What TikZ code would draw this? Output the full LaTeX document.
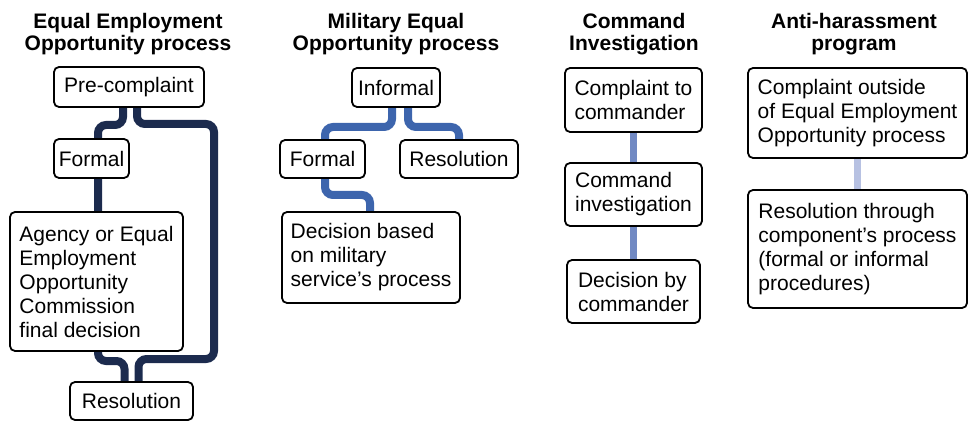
\documentclass[tikz,border=0pt]{standalone}
\usepackage{fontspec}
\setmainfont{Liberation Sans}
\usetikzlibrary{calc,backgrounds}
\definecolor{eeoc}{HTML}{1C2B4E}
\definecolor{meoc}{HTML}{3D65AD}
\definecolor{cmdc}{HTML}{7189C3}
\definecolor{antic}{HTML}{B7C1E2}
\tikzset{
  box/.style={draw=black, fill=white, line width=1.8pt, rounded corners=5pt,
    align=left, inner sep=0pt, font=\fontsize{21}{24}\selectfont},
  title/.style={align=center, inner sep=0pt, anchor=north,
    font=\bfseries\fontsize{21}{22}\selectfont},
  flow/.style={line width=#1, rounded corners=8pt},
}
\begin{document}
\begin{tikzpicture}[x=1pt,y=-1pt]
\useasboundingbox (0,0) rectangle (975,422);
% titles
\node[title] (t1) at (128,13) {Equal Employment\\Opportunity process};
\node[title] (t2) at (396,13) {Military Equal\\Opportunity process};
\node[title] (t3) at (634,13) {Command\\Investigation};
\node[title] (t4) at (854,13) {Anti-harassment\\program};
% EEO
\node[box, minimum width=150pt, minimum height=40pt] (pre) at (129,87) {Pre-complaint};
\node[box, minimum width=75pt, minimum height=39pt] (fm1) at (91.5,158.5) {Formal};
\node[box, minimum width=173pt, minimum height=139pt] (ag) at (96.5,281.5) {Agency or Equal\\Employment\\Opportunity\\Commission\\final decision};
\node[box, minimum width=123pt, minimum height=38pt] (res1) at (131.5,401) {Resolution};
% MEO
\node[box, minimum width=88pt, minimum height=39pt] (inf) at (396,87.5) {Informal};
\node[box, minimum width=85pt, minimum height=38pt] (fm2) at (322.5,159) {Formal};
\node[box, minimum width=118pt, minimum height=38pt] (res2) at (459,159) {Resolution};
\node[box, minimum width=178pt, minimum height=91pt] (dec) at (371,257.5) {Decision based\\on military\\service’s process};
% Command
\node[box, minimum width=137pt, minimum height=64pt] (c1) at (633.5,100) {Complaint to\\commander};
\node[box, minimum width=137pt, minimum height=63pt] (c2) at (633.5,194.5) {Command\\investigation};
\node[box, minimum width=133pt, minimum height=63pt] (c3) at (633.5,291.5) {Decision by\\commander};
% Anti-harassment
\node[box, minimum width=219pt, minimum height=90pt] (a1) at (857.5,113) {Complaint outside\\of Equal Employment\\Opportunity process};
\node[box, minimum width=219pt, minimum height=118pt] (a2) at (857.5,249) {Resolution through\\component’s process\\(formal or informal\\procedures)};
\begin{scope}[on background layer]
\draw[flow=8pt, eeoc] ($(pre.south)+(-6,0)$) |- (98,125) -- (98,361) -| ($(res1.north)+(-7,0)$);
\draw[flow=8pt, eeoc] ($(pre.south)+(8,0)$) |- (214,124) -- (214,359) -| ($(res1.north)+(7,0)$);
\draw[flow=8pt, meoc] ($(inf.south)+(-4,0)$) |- (325,127) -- ($(fm2.north)+(2.5,0)$);
\draw[flow=8pt, meoc] ($(inf.south)+(12,0)$) |- (459,127) -- (res2.north);
\draw[flow=8pt, meoc] ($(fm2.south)+(2.5,0)$) |- (370,195) -- ($(dec.north)+(-1,0)$);
\draw[flow=7pt, cmdc] (c1.south) -- (c2.north);
\draw[flow=7pt, cmdc] (c2.south) -- (c3.north);
\draw[flow=7pt, antic] (a1.south) -- (a2.north);
\end{scope}
\end{tikzpicture}
\end{document}
